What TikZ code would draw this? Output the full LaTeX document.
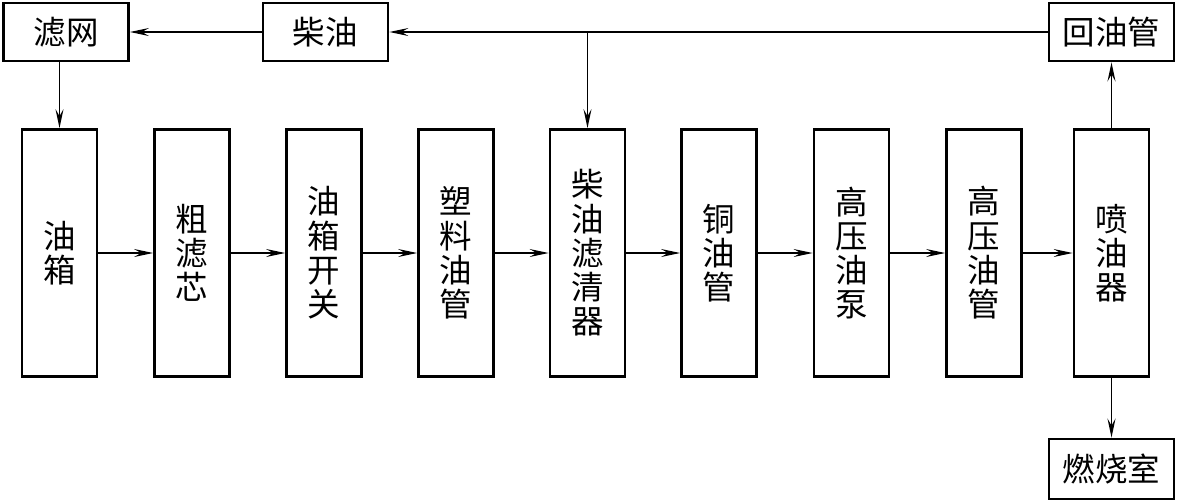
\documentclass[tikz,border=0pt]{standalone}
\usepackage{fontspec}
\usepackage{tikz}
\usetikzlibrary{arrows.meta,positioning}
\newfontfamily\cjk{Noto Sans CJK SC}

\begin{document}
\begin{tikzpicture}[
  line/.style={-{Stealth[length=3.8mm,width=1.6mm,inset=1.4mm]},line width=0.8pt},
  part/.style={draw,line width=1.6pt,minimum width=1.5cm,minimum height=4.94cm,
               align=center,inner sep=0pt,font=\cjk\fontsize{18.5}{19.5}\selectfont},
  label/.style={draw,line width=1.6pt,minimum width=2.5cm,minimum height=1.16cm,
                inner sep=0pt,font=\cjk\fontsize{18.5}{19.5}\selectfont}
]
  \useasboundingbox (0,0) rectangle (23.58,-10.04);

  \node[label] (mesh) at (1.32,-0.64) {滤网};
  \node[label] (diesel) at (6.51,-0.64) {柴油};
  \node[label] (return) at (22.23,-0.64) {回油管};

  \node[part] (tank) at (1.19,-5.06) {油\\箱};
  \node[part] (coarse) at (3.84,-5.06) {粗\\滤\\芯};
  \node[part] (valve) at (6.48,-5.06) {油\\箱\\开\\关};
  \node[part] (plastic) at (9.12,-5.06) {塑\\料\\油\\管};
  \node[part] (filter) at (11.75,-5.06) {柴\\油\\滤\\清\\器};
  \node[part] (copper) at (14.38,-5.06) {铜\\油\\管};
  \node[part] (pump) at (17.03,-5.06) {高\\压\\油\\泵};
  \node[part] (pipe) at (19.68,-5.06) {高\\压\\油\\管};
  \node[part] (injector) at (22.23,-5.06) {喷\\油\\器};

  \node[label,minimum height=1.2cm] (chamber) at (22.23,-9.38) {燃烧室};

  \coordinate (split) at (filter.north |- return.west);

  \draw[line] (return.west) -- (diesel.east);
  \draw[line] (split) -- (filter.north);
  \draw[line] (diesel.west) -- (mesh.east);
  \draw[line] (tank.north |- mesh.south) -- (tank.north);

  \draw[line] (tank) -- (coarse);
  \draw[line] (coarse) -- (valve);
  \draw[line] (valve) -- (plastic);
  \draw[line] (plastic) -- (filter);
  \draw[line] (filter) -- (copper);
  \draw[line] (copper) -- (pump);
  \draw[line] (pump) -- (pipe);
  \draw[line] (pipe) -- (injector);

  \draw[line,line width=1.1pt] (injector) -- (return);
  \draw[line,line width=1.1pt] (injector) -- (chamber);

\end{tikzpicture}
\end{document}
